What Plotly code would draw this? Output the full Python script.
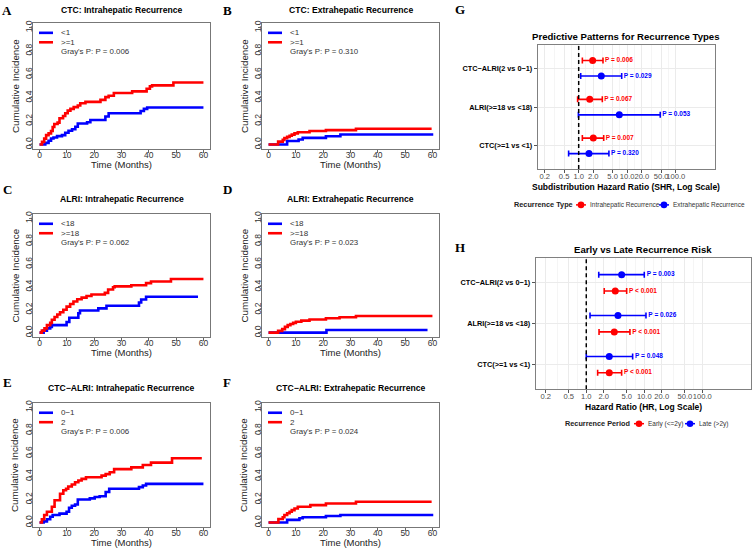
import plotly.graph_objects as go

W, H = 754, 548
SANS = "Liberation Sans, Arial, sans-serif"
SERIF = "Liberation Serif, Times New Roman, serif"
RED = "#FF0000"
BLUE = "#0000FF"

# ---------------- Cumulative incidence data (panels A-F) ----------------
km_titles = ["CTC: Intrahepatic Recurrence", "CTC: Extrahepatic Recurrence",
             "ALRI: Intrahepatic Recurrence", "ALRI: Extrahepatic Recurrence",
             "CTC\u2212ALRI: Intrahepatic Recurrence", "CTC\u2212ALRI: Extrahepatic Recurrence"]
km_groups = [["<1", ">=1"], ["<1", ">=1"], ["<18", ">=18"], ["<18", ">=18"],
             ["0\u22121", "2"], ["0\u22121", "2"]]
km_gray_p = ["0.006", "0.310", "0.062", "0.023", "0.006", "0.024"]
km_letters = ["A", "B", "C", "D", "E", "F"]

a_t_low = [0, 2.1, 3.3, 4.2, 5.1, 6.4, 8.2, 9.4, 10.6, 11.9, 13.1, 14.0, 17.4, 18.6, 24.1, 25.3, 37.0, 38.2, 39.4, 60]
a_ci_low = [0, 0.014, 0.032, 0.052, 0.06, 0.072, 0.08, 0.1, 0.118, 0.13, 0.152, 0.18, 0.19, 0.21, 0.24, 0.267, 0.287, 0.305, 0.316, 0.316]
a_t_high = [0, 0.9, 1.7, 2.4, 3.3, 4.2, 4.8, 5.4, 6.6, 7.3, 8.6, 9.4, 10.3, 11.3, 12.5, 14.0, 14.9, 16.8, 22.3, 24.1, 25.3, 27.2, 33.9, 39.2, 40.4, 41.2, 49.0, 60]
a_ci_high = [0, 0.023, 0.05, 0.08, 0.095, 0.115, 0.15, 0.175, 0.187, 0.224, 0.244, 0.267, 0.29, 0.305, 0.32, 0.333, 0.353, 0.365, 0.382, 0.405, 0.417, 0.44, 0.454, 0.477, 0.497, 0.506, 0.53, 0.53]

b_t_low = [0, 6.8, 11.0, 12.5, 21.0, 26.3, 60.3]
b_ci_low = [0, 0.03, 0.043, 0.057, 0.071, 0.086, 0.086]
b_t_high = [0, 3.5, 5.2, 5.8, 6.8, 7.7, 8.5, 9.5, 10.7, 15.0, 21.0, 32.0, 59.7]
b_ci_high = [0, 0.025, 0.04, 0.055, 0.065, 0.075, 0.085, 0.095, 0.105, 0.115, 0.123, 0.135, 0.135]

c_t_low = [0, 1.5, 2.7, 3.9, 4.5, 9.9, 10.9, 14.2, 14.8, 21.5, 24.5, 36.4, 37.2, 39.0, 58.0]
c_ci_low = [0, 0.017, 0.037, 0.05, 0.065, 0.093, 0.13, 0.17, 0.193, 0.212, 0.235, 0.263, 0.29, 0.314, 0.314]
c_t_high = [0, 0.85, 1.8, 2.7, 3.9, 4.5, 5.5, 6.5, 7.5, 8.7, 9.9, 11.2, 12.4, 13.8, 15.4, 17.2, 19.0, 23.9, 25.1, 26.9, 27.5, 33.6, 39.0, 40.8, 48.1, 60]
c_ci_high = [0, 0.017, 0.037, 0.065, 0.085, 0.113, 0.136, 0.159, 0.178, 0.2, 0.227, 0.25, 0.272, 0.292, 0.306, 0.32, 0.334, 0.348, 0.377, 0.397, 0.405, 0.414, 0.433, 0.448, 0.47, 0.47]

d_t_low = [0, 21.2, 58.2]
d_ci_low = [0, 0.023, 0.023]
d_t_high = [0, 3.5, 5.0, 6.0, 7.0, 8.0, 9.0, 10.0, 12.0, 15.0, 21.0, 26.0, 32.0, 60]
d_ci_high = [0, 0.015, 0.03, 0.05, 0.065, 0.075, 0.085, 0.095, 0.105, 0.115, 0.125, 0.135, 0.145, 0.145]

e_t_low = [0, 1.5, 2.7, 3.9, 4.8, 7.3, 9.9, 10.8, 11.8, 13.0, 14.0, 18.4, 20.2, 22.0, 24.2, 25.5, 36.4, 37.8, 39.0, 60]
e_ci_low = [0, 0.01, 0.028, 0.05, 0.065, 0.077, 0.094, 0.128, 0.145, 0.157, 0.2, 0.21, 0.222, 0.228, 0.265, 0.293, 0.307, 0.322, 0.336, 0.336]
e_t_high = [0, 0.85, 1.7, 2.7, 4.5, 5.5, 7.5, 8.7, 9.7, 10.5, 11.8, 13.0, 14.2, 15.4, 17.0, 22.7, 24.2, 25.7, 27.3, 33.6, 37.8, 40.8, 48.5, 59.4]
e_ci_high = [0, 0.028, 0.065, 0.094, 0.137, 0.194, 0.25, 0.28, 0.293, 0.313, 0.33, 0.35, 0.365, 0.379, 0.393, 0.407, 0.42, 0.436, 0.464, 0.479, 0.5, 0.52, 0.558, 0.558]

f_t_low = [0, 6.8, 11.3, 12.5, 21.0, 26.3, 60.3]
f_ci_low = [0, 0.023, 0.037, 0.046, 0.057, 0.065, 0.065]
f_t_high = [0, 3.6, 5.2, 5.8, 6.8, 7.7, 8.5, 9.5, 10.7, 15.3, 21.0, 32.0, 59.7]
f_ci_high = [0, 0.031, 0.046, 0.065, 0.08, 0.094, 0.108, 0.122, 0.137, 0.151, 0.165, 0.18, 0.18]

km_curves = [(a_t_low, a_ci_low, a_t_high, a_ci_high),
             (b_t_low, b_ci_low, b_t_high, b_ci_high),
             (c_t_low, c_ci_low, c_t_high, c_ci_high),
             (d_t_low, d_ci_low, d_t_high, d_ci_high),
             (e_t_low, e_ci_low, e_t_high, e_ci_high),
             (f_t_low, f_ci_low, f_t_high, f_ci_high)]

km_xticks = [0, 10, 20, 30, 40, 50, 60]
km_yticks = [0.0, 0.2, 0.4, 0.6, 0.8, 1.0]

# ---------------- Forest plot data (panels G, H) ----------------
forest_labels = ["CTC(>=1 vs <1)", "ALRI(>=18 vs <18)", "CTC\u2212ALRI(2 vs 0\u22121)"]
hr_ticks = [0.2, 0.5, 1.0, 2.0, 5.0, 10.0, 20.0, 50.0, 100.0]
ref_hr = 1.0

g_intra_shr = [2.0, 1.69, 1.94]
g_intra_lo = [1.19, 0.95, 1.19]
g_intra_hi = [3.28, 3.07, 3.17]
g_intra_p = ["P = 0.007", "P = 0.067", "P = 0.006"]
g_extra_shr = [1.63, 6.87, 2.92]
g_extra_lo = [0.62, 0.986, 1.10]
g_extra_hi = [4.2, 48.0, 7.7]
g_extra_p = ["P = 0.320", "P = 0.053", "P = 0.029"]
g_legend_names = ["Intrahepatic Recurrence", "Extrahepatic Recurrence"]

h_early_hr = [2.49, 3.04, 3.16]
h_early_lo = [1.57, 1.66, 2.04]
h_early_hi = [4.07, 5.66, 4.97]
h_early_p = ["P < 0.001", "P < 0.001", "P < 0.001"]
h_late_hr = [2.49, 3.52, 4.07]
h_late_lo = [1.0, 1.16, 1.64]
h_late_hi = [6.3, 10.7, 10.0]
h_late_p = ["P = 0.048", "P = 0.026", "P = 0.003"]
h_legend_names = ["Early (<=2y)", "Late (>2y)"]

# ---------------- Layout geometry (pixels) ----------------
COLS = [(33, 210), (262, 439)]
ROWS = [(20, 147), (212, 336), (402, 527)]
TITLE_Y = [7, 197, 387]
LETTER_POS = [(7, 8), (227, 8), (7, 188), (227, 188), (7, 382), (227, 382)]
G_BOX = (537.7, 715.0, 42.3, 167.0)
H_BOX = (535.7, 751.0, 256.7, 388.3)
CAT_RANGE = [0.4, 3.6]
DODGE = 0.2


def px(x):
    return x / W


def py(y):
    return 1 - y / H


def ann(text, x, y, size, color="black", family=SANS, xanchor="center",
        yanchor="middle", angle=0):
    return dict(text=text, x=px(x), y=py(y), xref="paper", yref="paper",
                showarrow=False, font=dict(size=size, color=color, family=family),
                xanchor=xanchor, yanchor=yanchor, textangle=angle)


fig = go.Figure()
annotations = []
shapes = []
lay = {}

for i in range(6):
    r, c = i // 2, i % 2
    x0, x1 = COLS[c]
    y0, y1 = ROWS[r]
    idx = i + 1
    xa, ya = f"x{idx}", f"y{idx}"
    t_lo, ci_lo, t_hi, ci_hi = km_curves[i]
    fig.add_trace(go.Scatter(x=t_lo, y=ci_lo, mode="lines",
                             line=dict(color=BLUE, width=2.6, shape="hv"),
                             xaxis=xa, yaxis=ya, showlegend=False, hoverinfo="skip"))
    fig.add_trace(go.Scatter(x=t_hi, y=ci_hi, mode="lines",
                             line=dict(color=RED, width=2.6, shape="hv"),
                             xaxis=xa, yaxis=ya, showlegend=False, hoverinfo="skip"))
    lay[f"xaxis{idx}"] = dict(domain=[px(x0), px(x1)], anchor=ya, range=[-2.4, 62.4],
                             tickvals=km_xticks, ticks="outside", ticklen=3,
                             tickcolor="#666", showline=True, mirror=True,
                             linecolor="#777", linewidth=1, showgrid=False,
                             zeroline=False, tickfont=dict(size=8.5, color="#333"),
                             ticklabelstandoff=-5)
    lay[f"yaxis{idx}"] = dict(domain=[py(y1), py(y0)], anchor=xa, range=[-0.04, 1.04],
                             tickvals=km_yticks, ticktext=[f"{v:.1f}" for v in km_yticks],
                             tickangle=-90, ticks="outside", ticklen=3,
                             tickcolor="#666", showline=True, mirror=True,
                             linecolor="#777", linewidth=1, showgrid=False,
                             zeroline=False, tickfont=dict(size=8.5, color="#333"),
                             ticklabelstandoff=-6)
    cx = (x0 + x1) / 2
    annotations.append(ann(f"<b>{km_titles[i]}</b>", cx, TITLE_Y[r], 8.6))
    annotations.append(ann("Time (Months)", cx, y1 + 15.5, 9.5, color="#222"))
    annotations.append(ann("Cumulative Incidence", x0 - 18, (y0 + y1) / 2, 9.8,
                           color="#222", angle=-90))
    lx, ly = LETTER_POS[i]
    annotations.append(ann(f"<b>{km_letters[i]}</b>", lx, ly, 13, family=SERIF))
    # legend inside panel
    for k, colr in enumerate([BLUE, RED]):
        ky = y0 + 10 + 9.5 * k
        shapes.append(dict(type="line", xref="paper", yref="paper",
                           x0=px(x0 + 6), x1=px(x0 + 20), y0=py(ky), y1=py(ky),
                           line=dict(color=colr, width=2.6)))
        annotations.append(ann(km_groups[i][k], x0 + 26, ky, 8, color="#333",
                               xanchor="left"))
    annotations.append(ann(f"Gray's P: P = {km_gray_p[i]}", x0 + 26, y0 + 28.5, 7.9,
                           color="#333", xanchor="left"))

# ---------------- forest plots ----------------
cat_pos = [1, 2, 3]


def forest(est, lo, hi, ptxt, color, offset, xa, ya):
    yy = [p + offset for p in cat_pos]
    fig.add_trace(go.Scatter(
        x=est, y=yy, mode="markers", showlegend=False,
        marker=dict(color=color, size=7),
        error_x=dict(type="data", symmetric=False,
                     array=[h - e for h, e in zip(hi, est)],
                     arrayminus=[e - l for e, l in zip(est, lo)],
                     color=color, thickness=1.6, width=3),
        xaxis=xa, yaxis=ya, hoverinfo="skip"))
    fig.add_trace(go.Scatter(
        x=[h * 1.1 for h in hi], y=yy, mode="text", text=[f"<b>{t}</b>" for t in ptxt],
        textposition="middle right", textfont=dict(color=color, size=6.5, family=SANS),
        xaxis=xa, yaxis=ya, showlegend=False, hoverinfo="skip"))


forest(g_intra_shr, g_intra_lo, g_intra_hi, g_intra_p, RED, DODGE, "x7", "y7")
forest(g_extra_shr, g_extra_lo, g_extra_hi, g_extra_p, BLUE, -DODGE, "x7", "y7")
forest(h_early_hr, h_early_lo, h_early_hi, h_early_p, RED, -DODGE, "x8", "y8")
forest(h_late_hr, h_late_lo, h_late_hi, h_late_p, BLUE, DODGE, "x8", "y8")

for xa, ya in [("x7", "y7"), ("x8", "y8")]:
    fig.add_trace(go.Scatter(x=[ref_hr, ref_hr], y=CAT_RANGE, mode="lines",
                             line=dict(color="black", width=1.5, dash="4px,3px"),
                             xaxis=xa, yaxis=ya, showlegend=False, hoverinfo="skip"))

minor_vals = [(a * b) ** 0.5 for a, b in zip(hr_ticks[:-1], hr_ticks[1:])]


def forest_axes(box, xr, xidx, title, xtitle, letter, letter_pos):
    bx0, bx1, by0, by1 = box
    lay[f"xaxis{xidx}"] = dict(
        domain=[px(bx0), px(bx1)], anchor=f"y{xidx}", type="log", range=xr,
        tickvals=hr_ticks, ticktext=[f"{v:.1f}" for v in hr_ticks], tickangle=0,
        ticks="outside", ticklen=3, tickcolor="#555", showline=True, mirror=True,
        linecolor="#808080", linewidth=1, showgrid=True, gridcolor="#EBEBEB",
        gridwidth=1, zeroline=False, tickfont=dict(size=7.6, color="#4D4D4D"),
        ticklabelstandoff=-3,
        minor=dict(tickvals=minor_vals, showgrid=True, gridcolor="#F5F5F5", ticks=""))
    lay[f"yaxis{xidx}"] = dict(
        domain=[py(by1), py(by0)], anchor=f"x{xidx}", range=CAT_RANGE,
        tickvals=cat_pos, ticktext=[f"<b>{t}</b>" for t in forest_labels],
        ticks="outside", ticklen=3, tickcolor="#555", showline=True, mirror=True,
        linecolor="#808080", linewidth=1, showgrid=True, gridcolor="#EBEBEB",
        zeroline=False, tickfont=dict(size=7.3, color="black"))
    cx = (bx0 + bx1) / 2
    annotations.append(ann(f"<b>{title}</b>", cx, by0 - 9, 9.6, color="black"))
    annotations.append(ann(f"<b>{xtitle}</b>", cx, by1 + 18, 8.5, color="black"))
    annotations.append(ann(f"<b>{letter}</b>", letter_pos[0], letter_pos[1], 13,
                           family=SERIF))


def legend_row(title, names, colors, ly, title_x, key_x, text_x):
    annotations.append(ann(f"<b>{title}</b>", title_x, ly, 7.3, color="#222",
                           xanchor="left"))
    for nm, colr, kx, tx in zip(names, colors, key_x, text_x):
        shapes.append(dict(type="line", xref="paper", yref="paper",
                           x0=px(kx - 5), x1=px(kx + 5), y0=py(ly), y1=py(ly),
                           line=dict(color=colr, width=1.5)))
        shapes.append(dict(type="circle", xref="paper", yref="paper",
                           x0=px(kx - 3.3), x1=px(kx + 3.3),
                           y0=py(ly + 3.3), y1=py(ly - 3.3),
                           fillcolor=colr, line=dict(color=colr, width=0)))
        annotations.append(ann(nm, tx, ly, 6.5, color="#333", xanchor="left"))


forest_axes(G_BOX, [-0.845, 2.81], 7, "Predictive Patterns for Recurrence Types",
            "Subdistribution Hazard Ratio (SHR, Log Scale)", "G", (460, 7))
forest_axes(H_BOX, [-0.872, 2.84], 8, "Early vs Late Recurrence Risk",
            "Hazard Ratio (HR, Log Scale)", "H", (460, 246))
legend_row("Recurrence Type", g_legend_names, [RED, BLUE], 203, 512,
           [581, 664], [588, 671])
legend_row("Recurrence Period", h_legend_names, [RED, BLUE], 423, 563,
           [639, 690], [646, 697])

fig.update_layout(width=W, height=H, margin=dict(l=0, r=0, t=0, b=0),
                  paper_bgcolor="white", plot_bgcolor="white", showlegend=False,
                  font=dict(family=SANS), annotations=annotations, shapes=shapes,
                  **lay)

fig.write_html("out.html")
